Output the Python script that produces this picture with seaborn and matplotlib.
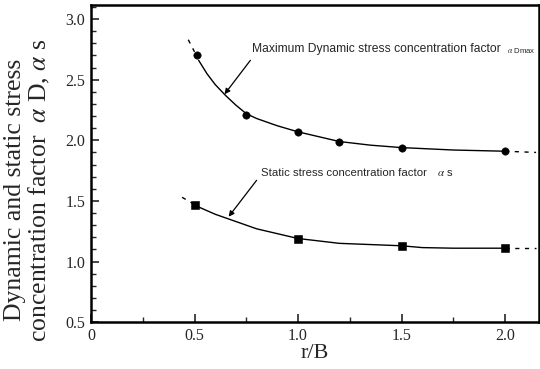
import numpy as np
import pandas as pd
import matplotlib
matplotlib.use("Agg")
import matplotlib.pyplot as plt
import seaborn as sns
from matplotlib.ticker import MultipleLocator

# ---- data ----
dyn_x = [0.51, 0.75, 1.0, 1.2, 1.5, 2.0]
dyn_y = [2.70, 2.21, 2.07, 1.99, 1.94, 1.91]
sta_x = [0.5, 1.0, 1.5, 2.0]
sta_y = [1.47, 1.19, 1.13, 1.11]

# fitted curves
dyn_curve_x = [0.52, 0.56, 0.60, 0.65, 0.70, 0.75, 0.80, 0.90, 1.0, 1.1, 1.2, 1.35, 1.5, 1.75, 2.0]
dyn_curve_y = [2.66, 2.55, 2.46, 2.37, 2.29, 2.22, 2.18, 2.12, 2.07, 2.03, 1.99, 1.96, 1.94, 1.92, 1.91]
dyn_dash_l_x = [0.47, 0.50]
dyn_dash_l_y = [2.83, 2.73]
dyn_dash_r_x = [2.0, 2.15]
dyn_dash_r_y = [1.91, 1.90]

sta_curve_x = [0.52, 0.6, 0.7, 0.8, 0.9, 1.0, 1.1, 1.2, 1.35, 1.5, 1.6, 1.75, 2.0]
sta_curve_y = [1.45, 1.39, 1.33, 1.27, 1.23, 1.19, 1.17, 1.15, 1.14, 1.13, 1.115, 1.11, 1.11]
sta_dash_l_x = [0.44, 0.49]
sta_dash_l_y = [1.53, 1.48]
sta_dash_r_x = [2.0, 2.15]
sta_dash_r_y = [1.11, 1.11]

x_ticks = [0, 0.5, 1.0, 1.5, 2.0]
x_tick_labels = ["0", "0.5", "1.0", "1.5", "2.0"]
y_ticks = [0.5, 1.0, 1.5, 2.0, 2.5, 3.0]
y_tick_labels = ["0.5", "1.0", "1.5", "2.0", "2.5", "3.0"]

sns.set_style("ticks")
plt.rcParams["font.family"] = ["Liberation Serif", "DejaVu Serif"]
plt.rcParams["mathtext.fontset"] = "stix"

fig = plt.figure(figsize=(5.4, 3.69), dpi=100)
ax = fig.add_axes([0.1685, 0.127, 0.830, 0.859])

lw = 1.0
sns.lineplot(x=dyn_curve_x, y=dyn_curve_y, ax=ax, color="black", lw=lw, sort=False)
sns.lineplot(x=sta_curve_x, y=sta_curve_y, ax=ax, color="black", lw=lw, sort=False)
for xs, ys in [(dyn_dash_l_x, dyn_dash_l_y), (dyn_dash_r_x, dyn_dash_r_y),
               (sta_dash_l_x, sta_dash_l_y), (sta_dash_r_x, sta_dash_r_y)]:
    sns.lineplot(x=xs, y=ys, ax=ax, color="black", lw=lw, sort=False, linestyle=(0, (3, 4)))

sns.scatterplot(x=dyn_x, y=dyn_y, ax=ax, color="black", marker="o", s=28, edgecolor="black", zorder=5)
sns.scatterplot(x=sta_x, y=sta_y, ax=ax, color="black", marker="s", s=26, edgecolor="black", zorder=5)

ax.set_xlim(0, 2.165)
ax.set_ylim(0.5, 3.115)
ax.set_xticks(x_ticks)
ax.set_xticklabels(x_tick_labels)
ax.set_yticks(y_ticks)
ax.set_yticklabels(y_tick_labels)
ax.xaxis.set_minor_locator(MultipleLocator(0.25))
ax.yaxis.set_minor_locator(MultipleLocator(0.1))
ax.tick_params(which="major", direction="in", length=6, width=1.2, labelsize=11.5, pad=4)
ax.tick_params(which="minor", direction="in", length=3.5, width=1.0)
for s in ax.spines.values():
    s.set_linewidth(1.8)
    s.set_color("black")

ax.set_xlabel("r/B", fontsize=16, labelpad=0)
ax.set_ylabel("")
fig.text(28 / 540, 1 - 190 / 369,
         "Dynamic and static stress\nconcentration factor  $\\alpha$ D, $\\alpha$ s",
         fontsize=18.5, rotation=90, ha="center", va="center", linespacing=1.0)

ann_font = ["Liberation Sans", "DejaVu Sans"]
ax.text(0.78, 2.75, "Maximum Dynamic stress concentration factor", fontsize=8.7,
        family=ann_font, va="center", ha="left")
ax.text(2.01, 2.745, "$\\alpha$ Dmax", fontsize=5.6, family=ann_font, va="center", ha="left")
ax.annotate("", xy=(0.645, 2.38), xytext=(0.77, 2.66),
            arrowprops=dict(arrowstyle="-|>", color="black", lw=0.9,
                            shrinkA=0, shrinkB=0, mutation_scale=8))

ax.text(0.82, 1.73, "Static stress concentration factor", fontsize=8.2,
        family=ann_font, va="center", ha="left")
ax.text(1.67, 1.73, "$\\alpha$ s", fontsize=8.0, family=ann_font, va="center", ha="left")
ax.annotate("", xy=(0.665, 1.37), xytext=(0.80, 1.67),
            arrowprops=dict(arrowstyle="-|>", color="black", lw=0.9,
                            shrinkA=0, shrinkB=0, mutation_scale=8))

fig.savefig("out.png", dpi=100)
